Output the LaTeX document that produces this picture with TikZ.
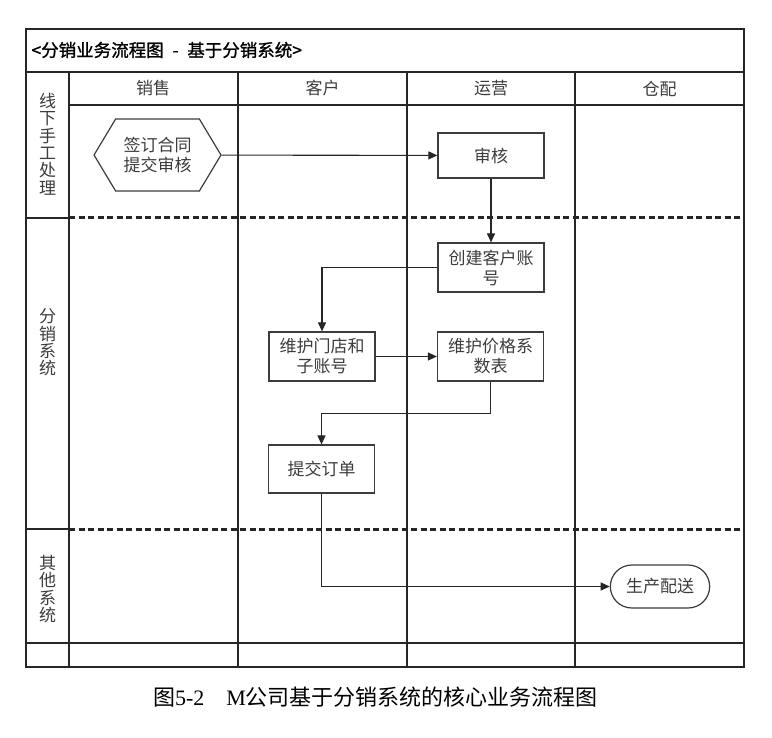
\documentclass[tikz,border=0pt]{standalone}
\usepackage{fontspec}
\usepackage{tikz}
\usetikzlibrary{arrows.meta, shapes.symbols, shapes.misc}
\newfontfamily\cjk{Noto Sans CJK SC}
\newfontfamily\cjktitle[FakeBold=1.2]{Noto Sans CJK SC}
\newfontfamily\capfont{Liberation Serif}
\definecolor{inkgray}{HTML}{3C3C3C}
\definecolor{linegray}{HTML}{262626}

\begin{document}
\begin{tikzpicture}[
  x=1pt, y=-1pt,
  font=\cjk\fontsize{17}{20}\selectfont,
  grid/.style={draw=linegray, line width=1.1pt},
  sep/.style={draw=linegray, line width=3pt, dash pattern=on 6pt off 3.5pt},
  proc/.style={rectangle, draw=inkgray, line width=1.2pt, minimum width=106pt, minimum height=49pt, inner sep=2pt, align=center, text=inkgray},
  hexa/.style={signal, signal to=east and west, signal pointer angle=118, draw=inkgray, line width=1.2pt, minimum width=127pt, minimum height=72pt, inner sep=2pt, align=center, text=inkgray},
  term/.style={rounded rectangle, draw=inkgray, line width=1.2pt, minimum width=106pt, minimum height=43pt, align=center, text=inkgray},
  lanelbl/.style={align=center, text=inkgray, font=\cjk\fontsize{17}{17.3}\selectfont},
  colhead/.style={text=inkgray},
  flow/.style={draw=linegray, line width=1.1pt, -{Triangle[length=9pt, width=8pt]}}
]
  \useasboundingbox (0,0) rectangle (772,738);

  % swimlane frame
  \draw[grid] (26,29) rectangle (744,667);
  \draw[grid] (26,72) -- (744,72);
  \draw[grid] (69,105) -- (744,105);
  \draw[grid] (69,72) -- (69,667);
  \foreach \cx in {238,407,575}
    \draw[grid] (\cx,72) -- (\cx,667);
  \draw[grid] (26,218) -- (69,218);
  \draw[grid] (26,529) -- (69,529);
  \draw[grid] (26,643) -- (744,643);
  \draw[sep] (69,218) -- (744,218);
  \draw[sep] (69,529) -- (744,529);

  % title and headers
  \node[anchor=west, font=\cjktitle\fontsize{17.5}{20}\selectfont] (title) at (28,50)
    {<分销业务流程图\hspace{0.5em}-\hspace{0.5em}基于分销系统>};
  \node[colhead] (hsales) at (153,88.5) {销售};
  \node[colhead] (hcust) at (322.5,88.5) {客户};
  \node[colhead] (hops) at (491,88.5) {运营};
  \node[colhead] (hwh) at (659.5,88.5) {仓配};

  % lane labels
  \node[lanelbl] (laneoff) at (47.5,144) {线\\下\\手\\工\\处\\理};
  \node[lanelbl] (lanesys) at (47.5,342.5) {分\\销\\系\\统};
  \node[lanelbl] (laneoth) at (47.5,589) {其\\他\\系\\统};

  % steps
  \node[hexa] (sign) at (157.5,155) {签订合同\\提交审核};
  \node[proc, minimum height=45pt] (audit) at (491,155.5) {审核};
  \node[proc] (acct) at (491,267.5) {创建客户账\\号};
  \node[proc] (store) at (322,356.5) {维护门店和\\子账号};
  \node[proc] (price) at (490.5,356.5) {维护价格系\\数表};
  \node[proc, minimum height=48pt] (order) at (321.5,469) {提交订单};
  \node[term] (ship) at (660,586.5) {生产配送};

  \draw[flow] (sign) -- (audit);
  \draw[flow] (audit) -- (acct);
  \draw[flow] (acct.west) -| (store.north);
  \draw[flow] (store) -- (price);
  \draw[flow] (price.south) -- ++(0,32) -| (order.north);
  \draw[flow] (order.south) |- (ship.west);

  % caption
  \node[font=\cjk\fontsize{22}{26}\selectfont] (caption) at (375.5,697)
    {图{\capfont 5-2}\hspace{1em}{\capfont M}公司基于分销系统的核心业务流程图};
\end{tikzpicture}
\end{document}
